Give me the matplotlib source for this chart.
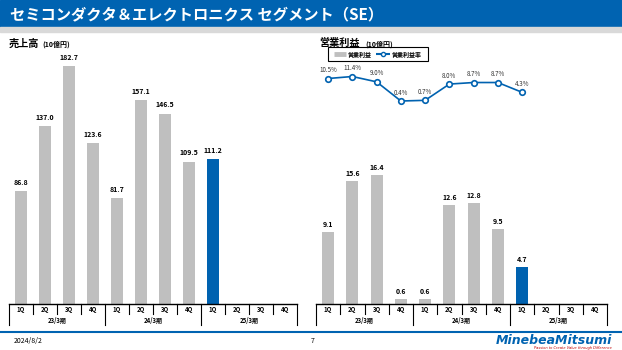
import matplotlib
matplotlib.use('Agg')
import matplotlib.pyplot as plt
from matplotlib.lines import Line2D
import numpy as np

plt.rcParams['font.family'] = ['Noto Sans CJK JP', 'DejaVu Sans']

# データ
quarters = ['1Q', '2Q', '3Q', '4Q'] * 3
years = ['23/3期', '24/3期', '25/3期']
sales = [86.8, 137.0, 182.7, 123.6, 81.7, 157.1, 146.5, 109.5, 111.2]
op_income = [9.1, 15.6, 16.4, 0.6, 0.6, 12.6, 12.8, 9.5, 4.7]
op_margin = [10.5, 11.4, 9.0, 0.4, 0.7, 8.0, 8.7, 8.7, 4.3]

GREY = '#BFBFBF'
BLUE = '#0062B0'
W, H = 622, 350

fig = plt.figure(figsize=(6.22, 3.5), dpi=100)


def px_rect(x0, y_top, x1, y_bot):
    return [x0 / W, 1 - y_bot / H, (x1 - x0) / W, (y_bot - y_top) / H]


def fx(px):
    return px / W


def fy(py):
    return 1 - py / H


# タイトルバー
fig.patches.append(plt.Rectangle((0, fy(27)), 1, 27 / H, transform=fig.transFigure,
                                 color='#0063B1', zorder=0))
fig.patches.append(plt.Rectangle((0, fy(32)), 1, 5 / H, transform=fig.transFigure,
                                 color='#D9D9D9', zorder=0))
fig.text(fx(10), fy(14), 'セミコンダクタ＆エレクトロニクス セグメント（SE）', color='white',
         fontsize=11, fontweight='bold', va='center', ha='left')

# フッター
fig.lines.append(Line2D([0, 1], [fy(332)] * 2, transform=fig.transFigure,
                        color='#0063B1', lw=1.5))
fig.text(fx(14), fy(341), '2024/8/2', fontsize=5, va='center')
fig.text(fx(311), fy(341), '7', fontsize=5, va='center')
fig.text(fx(612), fy(340), 'MinebeaMitsumi', fontsize=9, fontweight='bold',
         style='italic', color='#0063B1', ha='right', va='center', family='DejaVu Sans')
fig.text(fx(612), fy(347.5), 'Passion to Create Value through Difference', fontsize=2.6,
         style='italic', color='#C00000', ha='right', va='center', family='DejaVu Sans')

BASE = 304
TOP = 60
AX_H = BASE - TOP


def setup_axis(ax):
    ax.set_xlim(-0.5, 11.5)
    for s in ['top', 'right', 'left']:
        ax.spines[s].set_visible(False)
    ax.spines['bottom'].set_color('black')
    ax.spines['bottom'].set_linewidth(1.0)
    ax.set_xticks([])
    ax.set_yticks([])
    tr = ax.get_xaxis_transform()
    for k in range(13):
        x = k - 0.5
        depth = 21 if k % 4 == 0 else 10
        ax.plot([x, x], [0, -depth / AX_H], transform=tr, color='black', lw=0.8, clip_on=False)
    for i, q in enumerate(quarters):
        ax.text(i, -5.5 / AX_H, q, transform=tr, ha='center', va='center', fontsize=4.3,
                fontweight='bold')
    for j, y in enumerate(years):
        ax.text(4 * j + 1.5, -16.5 / AX_H, y, transform=tr, ha='center', va='center',
                fontsize=4.3, fontweight='bold')


# 売上高
ax1 = fig.add_axes(px_rect(9, TOP, 297, BASE))
x = np.arange(len(sales))
colors = [GREY] * (len(sales) - 1) + [BLUE]
ax1.bar(x, sales, width=0.5, color=colors, zorder=2)
ax1.set_ylim(0, AX_H / 1.30)
for xi, v in zip(x, sales):
    ax1.text(xi, v + 4, f'{v:.1f}', ha='center', va='bottom', fontsize=5, fontweight='bold')
setup_axis(ax1)
fig.text(fx(9), fy(44), '売上高', fontsize=7.3, fontweight='bold', va='center')
fig.text(fx(42), fy(44.5), '(10億円)', fontsize=5, fontweight='bold', va='center')

# 営業利益
ax2 = fig.add_axes(px_rect(316, TOP, 607, BASE))
ax2.bar(x, op_income, width=0.5, color=colors, zorder=2)
ax2.set_ylim(0, AX_H / 7.87)
for xi, v in zip(x, op_income):
    ax2.text(xi, v + 0.5, f'{v:.1f}', ha='center', va='bottom', fontsize=5, fontweight='bold')
setup_axis(ax2)

ax3 = ax2.twinx()
b = 22.5 / 10.1
a = 202.1
ax3.set_ylim(-a / b, (AX_H - a) / b)
ax3.plot(x, op_margin, color=BLUE, lw=1.2, marker='o', ms=4, mfc='white', mec=BLUE, mew=1.2)
for xi, v in zip(x, op_margin):
    ax3.text(xi, v + 2.0, f'{v:.1f}%', ha='center', va='bottom', fontsize=4.5, color='#333333')
ax3.set_xlim(-0.5, 11.5)
ax3.axis('off')

fig.text(fx(319), fy(43), '営業利益', fontsize=7.3, fontweight='bold', va='center')
fig.text(fx(365), fy(44), '(10億円)', fontsize=5, fontweight='bold', va='center')

# 凡例（手描き）
fig.patches.append(plt.Rectangle((fx(328), fy(61)), (428 - 328) / W, 14 / H,
                                 transform=fig.transFigure, fill=False, ec='black', lw=0.8))
fig.lines.append(Line2D([fx(334), fx(346)], [fy(54)] * 2, transform=fig.transFigure,
                        color=GREY, lw=3.5, solid_capstyle='butt'))
fig.text(fx(348), fy(54), '営業利益', fontsize=4.3, fontweight='bold', va='center')
fig.lines.append(Line2D([fx(376), fx(390)], [fy(54)] * 2, transform=fig.transFigure,
                        color=BLUE, lw=1.5, solid_capstyle='butt'))
fig.lines.append(Line2D([fx(383)], [fy(54)], transform=fig.transFigure, color=BLUE,
                        marker='o', ms=3, mfc='white', mec=BLUE, mew=1.0, lw=0))
fig.text(fx(392), fy(54), '営業利益率', fontsize=4.3, fontweight='bold', va='center')

fig.savefig('out.png', dpi=100)
